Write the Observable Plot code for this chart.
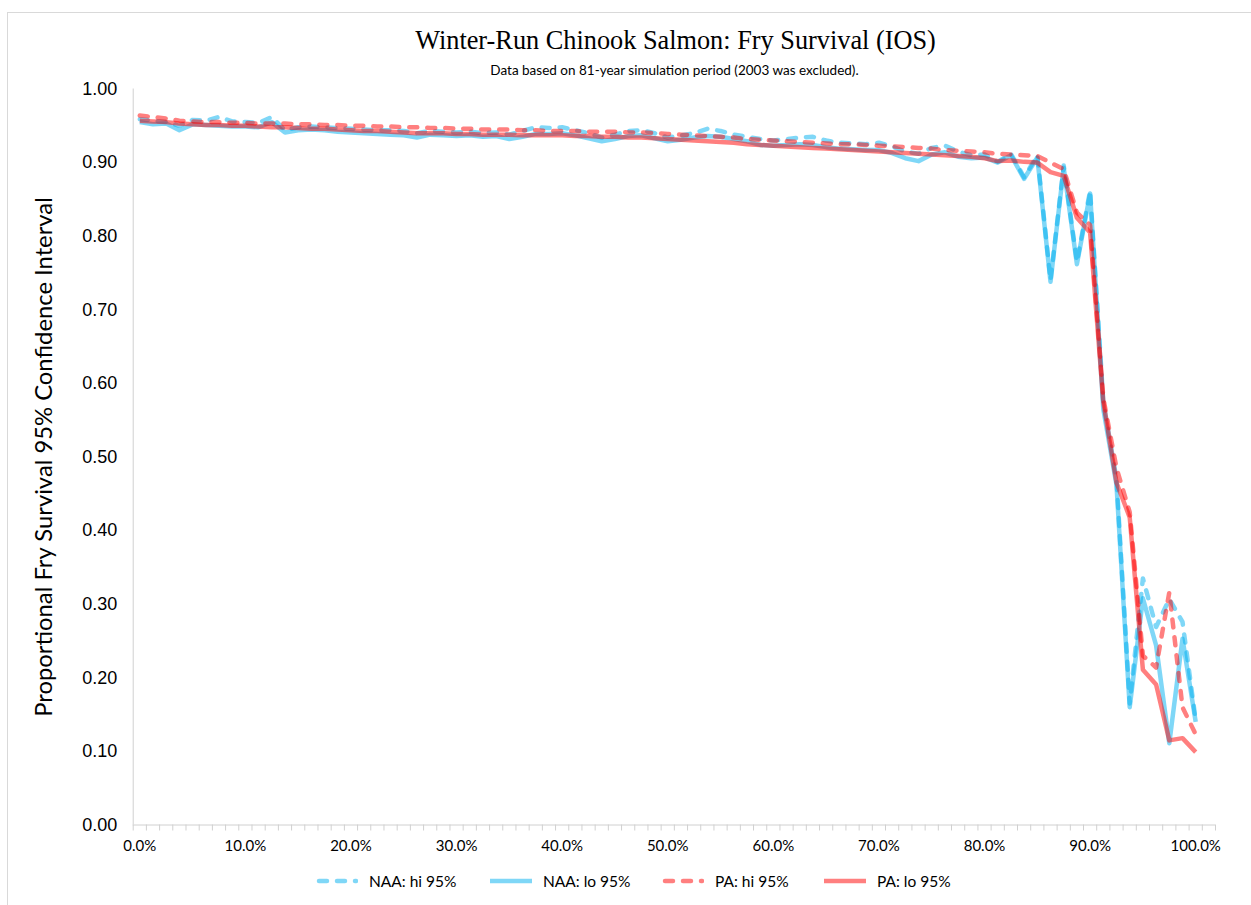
<!DOCTYPE html>
<html><head><meta charset="utf-8">
<script src="https://cdn.jsdelivr.net/npm/d3@7"></script>
<script src="https://cdn.jsdelivr.net/npm/@observablehq/plot@0.6"></script>
<style>
html,body{margin:0;padding:0;background:#fff;}
body{width:1251px;height:905px;overflow:hidden;position:relative;font-family:Lato,sans-serif;color:#000;}
#frame{position:absolute;left:7px;top:12px;width:1300px;height:1000px;border:1px solid #d9d9d9;box-sizing:border-box;z-index:5;pointer-events:none;}
#title{position:absolute;top:26px;left:0;width:1351px;text-align:center;font-family:"Liberation Serif",serif;font-size:26.3px;line-height:30px;}
#subtitle{position:absolute;top:62px;left:0;width:1349px;text-align:center;font-family:Lato,sans-serif;font-size:13.5px;line-height:16px;}
#chart{position:absolute;left:0;top:80px;}
.leg{position:absolute;top:871px;height:20px;display:flex;align-items:center;font-family:Lato,sans-serif;font-size:15.5px;}
.leg svg{margin-right:11px;}
</style>
</head><body>
<div id="frame"></div>
<div id="title">Winter-Run Chinook Salmon: Fry Survival (IOS)</div>
<div id="subtitle">Data based on 81-year simulation period (2003 was excluded).</div>
<div id="chart"></div>
<div id="legend"></div>
<script>
// Exceedance categories: 81 years -> i/80
const nYears = 81;
const categories = d3.range(nYears).map(i => i / (nYears - 1));
const xLabelTicks = [0, 0.1, 0.2, 0.3, 0.4, 0.5, 0.6, 0.7, 0.8, 0.9, 1.0];
const yTicks = [0, 0.1, 0.2, 0.3, 0.4, 0.5, 0.6, 0.7, 0.8, 0.9, 1.0];
const seriesNames = ["NAA: hi 95%", "NAA: lo 95%", "PA: hi 95%", "PA: lo 95%"];

const naaHi = [0.959,0.957,0.955,0.950,0.958,0.957,0.962,0.956,0.955,0.954,
 0.962,0.944,0.948,0.949,0.948,0.947,0.946,0.945,0.944,0.944,
 0.943,0.940,0.943,0.942,0.941,0.942,0.940,0.941,0.938,0.943,
 0.948,0.947,0.948,0.944,0.940,0.934,0.938,0.943,0.944,0.940,
 0.934,0.937,0.940,0.946,0.943,0.938,0.935,0.932,0.930,0.932,
 0.934,0.935,0.930,0.927,0.926,0.925,0.927,0.922,0.915,0.912,
 0.920,0.923,0.915,0.910,0.911,0.901,0.912,0.880,0.910,0.740,
 0.896,0.765,0.862,0.575,0.470,0.165,0.335,0.269,0.307,0.276,
 0.142];
const naaLo = [0.955,0.952,0.953,0.944,0.952,0.951,0.950,0.949,0.949,0.948,
 0.955,0.941,0.944,0.945,0.944,0.942,0.941,0.940,0.939,0.938,
 0.937,0.934,0.938,0.937,0.936,0.937,0.935,0.936,0.932,0.935,
 0.939,0.939,0.940,0.937,0.933,0.929,0.932,0.936,0.937,0.933,
 0.929,0.931,0.934,0.936,0.935,0.932,0.929,0.924,0.923,0.924,
 0.925,0.924,0.921,0.919,0.918,0.917,0.917,0.913,0.906,0.902,
 0.911,0.914,0.908,0.906,0.907,0.900,0.910,0.878,0.907,0.738,
 0.893,0.762,0.858,0.565,0.462,0.160,0.308,0.244,0.111,0.253,
 0.140];
const paHi = [0.964,0.962,0.960,0.957,0.956,0.955,0.955,0.954,0.954,0.953,
 0.953,0.953,0.952,0.952,0.951,0.951,0.950,0.950,0.949,0.949,
 0.948,0.948,0.947,0.947,0.946,0.946,0.945,0.945,0.945,0.944,
 0.944,0.943,0.943,0.943,0.942,0.942,0.942,0.941,0.941,0.940,
 0.939,0.938,0.937,0.936,0.935,0.934,0.932,0.931,0.930,0.929,
 0.928,0.927,0.926,0.925,0.925,0.924,0.923,0.922,0.921,0.920,
 0.919,0.917,0.916,0.915,0.914,0.912,0.911,0.910,0.909,0.900,
 0.891,0.832,0.815,0.580,0.485,0.425,0.230,0.214,0.316,0.160,
 0.123];
const paLo = [0.957,0.956,0.955,0.953,0.952,0.951,0.951,0.950,0.950,0.949,
 0.948,0.948,0.947,0.946,0.946,0.945,0.944,0.943,0.943,0.942,
 0.941,0.940,0.940,0.940,0.939,0.939,0.938,0.938,0.938,0.937,
 0.937,0.937,0.937,0.936,0.936,0.935,0.935,0.934,0.934,0.933,
 0.932,0.931,0.930,0.929,0.928,0.927,0.925,0.924,0.923,0.922,
 0.921,0.920,0.919,0.918,0.917,0.916,0.915,0.914,0.913,0.912,
 0.911,0.910,0.909,0.908,0.906,0.902,0.903,0.901,0.900,0.887,
 0.882,0.825,0.805,0.575,0.465,0.418,0.211,0.191,0.115,0.118,
 0.099];

const BLUE = "#00B0F0", RED = "#FF0000";
const DASH = "8,10";
const seriesStyle = [
  {name: seriesNames[0], values: naaHi, color: BLUE, dash: DASH},
  {name: seriesNames[1], values: naaLo, color: BLUE, dash: null},
  {name: seriesNames[2], values: paHi, color: RED, dash: DASH},
  {name: seriesNames[3], values: paLo, color: RED, dash: null}
];

const step = 1 / (nYears - 1);
const xMin = -0.5 * step, xMax = 1 + 1.5 * step;
const tickPositions = d3.range(0, nYears + 2).map(k => (k - 0.5) * step);

const lineMarks = seriesStyle.map(s => Plot.line(
  s.values.map((v, i) => ({x: categories[i], y: v})),
  {x: "x", y: "y", stroke: s.color, strokeOpacity: 0.5, strokeWidth: 4.5,
   strokeDasharray: s.dash, strokeLinecap: s.dash ? "round" : "butt", strokeLinejoin: "round"}
));

const chart = Plot.plot({
  width: 1251,
  height: 790,
  marginLeft: 132.7,
  marginRight: 36,
  marginTop: 8.5,
  marginBottom: 45.5,
  style: {background: "transparent", overflow: "visible"},
  x: {domain: [xMin, xMax], axis: null},
  y: {domain: [0, 1], axis: null},
  marks: [
    Plot.axisX({ticks: tickPositions, tickSize: 6, tickFormat: () => "", stroke: "#d0d0d0", label: null}),
    Plot.axisX({ticks: xLabelTicks, tickSize: 0, tickPadding: 15, tickFormat: d => (d * 100).toFixed(1) + "%",
      fontSize: 15, fontFamily: "Lato", fill: "#000", label: null}),
    Plot.axisY({ticks: yTicks, tickSize: 0, tickPadding: 16, tickFormat: d3.format(".2f"),
      fontSize: 18, fontFamily: "Liberation Sans", fill: "#000", label: null}),
    Plot.ruleY([0], {x1: xMin, x2: xMax, stroke: "#d0d0d0", strokeWidth: 1}),
    Plot.ruleX([xMin], {y1: 0, y2: 1, stroke: "#d0d0d0", strokeWidth: 1}),
    Plot.text(["Proportional Fry Survival 95% Confidence Interval"], {
      frameAnchor: "left", rotate: -90, dx: -88.7, fontSize: 23.8, fontFamily: "Lato", fill: "#000", textAnchor: "middle"}),
    ...lineMarks
  ]
});
document.getElementById("chart").appendChild(chart);

// legend
const legendX = [316, 490, 662, 824];
const legend = document.getElementById("legend");
seriesStyle.forEach((s, i) => {
  const item = document.createElement("div");
  item.className = "leg";
  item.style.left = legendX[i] + "px";
  const dash = s.dash ? `stroke-dasharray="${s.dash}" stroke-linecap="round"` : "";
  item.innerHTML = `<svg width="42" height="20"><line x1="${s.dash ? 3 : 0}" x2="${s.dash ? 40 : 42}" y1="10" y2="10" stroke="${s.color}" stroke-opacity="0.5" stroke-width="4.5" ${dash}/></svg><span>${s.name}</span>`;
  legend.appendChild(item);
});
</script>
</body></html>
